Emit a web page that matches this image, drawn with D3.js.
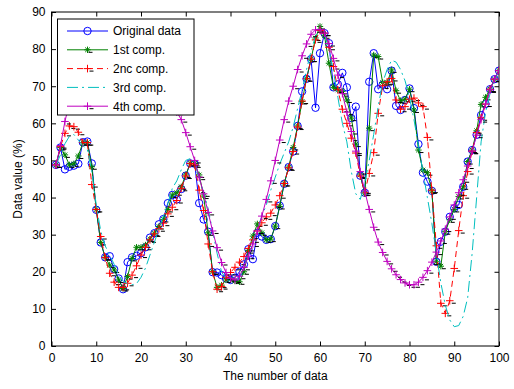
<!DOCTYPE html>
<html>
<head>
<meta charset="utf-8">
<script src="https://cdn.jsdelivr.net/npm/d3@7/dist/d3.min.js"></script>
<style>
  body { margin: 0; background: #fff; }
  text { font-family: "Liberation Sans", Arial, Helvetica, sans-serif; }
</style>
</head>
<body>
<svg id="chart" width="514" height="389"></svg>
<script>
// Tick values
const xTicks = [0, 10, 20, 30, 40, 50, 60, 70, 80, 90, 100];
const yTicks = [0, 10, 20, 30, 40, 50, 60, 70, 80, 90];

// Series values, sample index 1..100
const originalData = [
  48.8, 53.5, 47.6, 48.3, 48.6, 49.1, 54.9, 55.1, 49.2, 36.7,
  27.9, 23.9, 24.2, 20.7, 18.2, 15.3, 22.6, 23.9, 24.3, 25.0,
  26.6, 29.2, 30.4, 32.8, 34.2, 38.5, 40.7, 39.5, 42.3, 45.9,
  49.2, 49.1, 38.5, 34.1, 30.8, 19.9, 19.8, 19.1, 18.2, 17.8,
  18.4, 20.0, 22.0, 26.1, 23.4, 30.5, 29.5, 28.6, 28.8, 32.3,
  37.8, 43.7, 48.2, 52.4, 59.3, 68.6, 72.0, 77.3, 64.2, 78.9,
  84.3, 81.6, 69.7, 70.5, 73.6, 69.7, 61.4, 64.5, 45.9, 41.3,
  71.2, 78.9, 69.2, 70.4, 69.2, 74.2, 64.7, 63.6, 66.3, 69.4,
  64.1, 54.4, 46.7, 44.3, 41.8, 22.7, 28.1, 30.8, 34.8, 37.1,
  38.0, 42.9, 49.7, 52.8, 56.9, 62.2, 65.2, 69.2, 71.9, 74.2
];

const comp1 = [
  48.8, 53.5, 51.5, 48.8, 49.1, 51.2, 54.8, 54.8, 48.3, 36.8,
  27.9, 23.9, 21.8, 20.5, 17.8, 15.5, 18.7, 23.6, 26.6, 26.6,
  27.2, 28.8, 30.4, 32.2, 34.1, 36.8, 40.7, 41.3, 42.9, 46.1,
  49.2, 49.2, 46.1, 40.4, 30.5, 20.0, 15.8, 16.4, 17.8, 18.0,
  17.5, 17.3, 20.0, 25.7, 29.6, 32.9, 30.5, 28.6, 28.8, 32.3,
  37.6, 43.8, 48.2, 53.5, 59.3, 65.9, 72.1, 77.3, 83.0, 86.1,
  83.6, 76.2, 69.7, 69.0, 68.6, 66.3, 61.4, 54.4, 46.1, 41.2,
  58.7, 78.4, 78.0, 71.0, 71.0, 74.4, 68.8, 66.1, 66.5, 69.2,
  63.6, 52.8, 47.4, 46.7, 41.8, 22.7, 21.5, 30.8, 34.0, 36.8,
  40.3, 42.9, 49.7, 52.8, 58.0, 65.1, 67.0, 69.2, 71.9, 74.2
];

const comp2 = [
  48.8, 53.7, 57.3, 59.3, 59.1, 57.6, 54.8, 54.8, 43.5, 36.8,
  29.5, 23.8, 19.6, 17.2, 15.8, 15.8, 16.9, 19.1, 21.6, 24.5,
  26.6, 28.6, 30.2, 31.6, 33.1, 35.6, 37.4, 39.2, 42.5, 45.8,
  49.2, 48.8, 42.0, 36.5, 27.5, 20.0, 15.3, 16.0, 18.5, 19.8,
  21.2, 22.6, 24.1, 26.3, 28.6, 31.0, 33.2, 34.8, 35.8, 38.0,
  40.5, 43.8, 48.0, 52.4, 59.0, 66.0, 72.0, 77.3, 82.5, 85.0,
  84.3, 80.5, 75.3, 69.0, 63.8, 60.0, 56.0, 52.0, 45.8, 41.3,
  46.5, 52.1, 62.7, 70.1, 71.2, 72.1, 66.3, 63.8, 64.5, 66.5,
  66.8, 65.5, 64.5, 56.2, 42.0, 27.0, 11.5, 8.8, 12.2, 20.9,
  31.1, 40.5, 47.0, 52.5, 57.5, 61.5, 65.2, 69.2, 71.9, 74.2
];

const comp3 = [
  48.8, 51.5, 54.5, 56.5, 57.0, 55.5, 54.0, 53.0, 47.0, 38.0,
  31.0, 27.0, 24.5, 22.0, 19.0, 17.5, 16.8, 16.5, 16.8, 18.5,
  21.0, 24.5, 28.0, 31.5, 35.0, 38.5, 42.5, 44.5, 47.5, 50.0,
  50.5, 49.5, 45.0, 41.5, 37.0, 31.0, 25.0, 20.0, 18.0, 17.5,
  17.5, 18.5, 21.0, 24.5, 28.0, 31.5, 35.0, 38.0, 42.0, 45.5,
  49.0, 52.0, 55.0, 59.0, 64.0, 69.0, 74.5, 79.5, 83.5, 85.0,
  84.0, 80.0, 74.0, 67.0, 60.0, 55.0, 47.0, 41.0, 39.5, 44.0,
  50.0, 57.0, 64.5, 71.0, 74.5, 77.0, 76.5, 74.5, 71.5, 67.0,
  61.0, 54.0, 47.0, 40.0, 33.0, 25.0, 17.0, 11.0, 7.0, 5.2,
  5.5, 8.0, 13.0, 25.0, 40.0, 55.0, 63.0, 68.0, 71.5, 74.2
];

const comp4 = [
  48.8, 54.0, 60.5, 65.5, 70.0, 73.5, 76.5, 79.0, 81.0, 82.5,
  83.5, 84.3, 84.8, 85.0, 85.0, 84.7, 84.0, 83.0, 81.5, 79.5,
  77.5, 75.5, 73.0, 70.5, 68.0, 66.0, 64.5, 63.0, 61.0, 57.5,
  53.7, 50.0, 45.5, 41.0, 36.0, 31.0, 26.5, 22.5, 19.8, 18.2,
  17.8, 18.8, 21.2, 24.2, 27.5, 31.0, 35.0, 39.5, 44.5, 50.0,
  55.5, 61.0, 66.0, 70.0, 74.5, 78.2, 81.4, 84.0, 85.2, 85.3,
  84.3, 81.5, 77.5, 73.0, 68.0, 63.0, 57.8, 52.5, 47.0, 41.8,
  36.8, 32.0, 28.0, 25.2, 22.8, 20.8, 19.2, 17.9, 17.0, 16.5,
  16.5, 17.2, 18.5, 20.3, 22.6, 25.3, 28.3, 31.5, 34.8, 38.0,
  41.3, 44.8, 48.5, 52.5, 56.8, 61.0, 65.2, 69.0, 72.0, 74.2
];

const seriesNames = ["Original data", "1st comp.", "2nc comp.", "3rd comp.", "4th comp."];
const xTitle = "The number of data";
const yTitle = "Data value (%)";

// Drawing styles for each series
const styles = [
  { values: originalData, color: "#0000ff", dash: null,       marker: "circle" },
  { values: comp1,        color: "#008000", dash: null,       marker: "star" },
  { values: comp2,        color: "#ff0000", dash: "6,4",      marker: "plus" },
  { values: comp3,        color: "#00bfbf", dash: "11,4,2,4", marker: null },
  { values: comp4,        color: "#bf00bf", dash: null,       marker: "plus" }
];

const svg = d3.select("#chart");
const plotLeft = 51.5, plotRight = 499, plotTop = 12, plotBottom = 346;

const x = d3.scaleLinear().domain([0, 100]).range([plotLeft, plotRight]);
const y = d3.scaleLinear().domain([0, 90]).range([plotBottom, plotTop]);

svg.append("defs").append("clipPath").attr("id", "plotClip")
  .append("rect").attr("x", plotLeft).attr("y", plotTop)
  .attr("width", plotRight - plotLeft).attr("height", plotBottom - plotTop);

// Axes with inward ticks on all four sides
const tickLen = 4.5;
const gBottom = svg.append("g").attr("transform", `translate(0,${plotBottom})`)
  .call(d3.axisBottom(x).tickValues(xTicks).tickSizeInner(-tickLen).tickSizeOuter(0).tickPadding(7));
const gLeft = svg.append("g").attr("transform", `translate(${plotLeft},0)`)
  .call(d3.axisLeft(y).tickValues(yTicks).tickSizeInner(-tickLen).tickSizeOuter(0).tickPadding(6));
const gTop = svg.append("g").attr("transform", `translate(0,${plotTop})`)
  .call(d3.axisTop(x).tickValues(xTicks).tickSizeInner(-tickLen).tickSizeOuter(0).tickFormat(""));
const gRight = svg.append("g").attr("transform", `translate(${plotRight},0)`)
  .call(d3.axisRight(y).tickValues(yTicks).tickSizeInner(-tickLen).tickSizeOuter(0).tickFormat(""));

[gBottom, gLeft, gTop, gRight].forEach(g => {
  g.select(".domain").remove();
  g.selectAll("line").attr("stroke", "#000").attr("stroke-width", 1);
  g.selectAll("text").attr("font-size", 12).attr("fill", "#000")
    .style("font-family", '"Liberation Sans", Arial, sans-serif');
});

svg.append("rect").attr("x", plotLeft).attr("y", plotTop)
  .attr("width", plotRight - plotLeft).attr("height", plotBottom - plotTop)
  .attr("fill", "none").attr("stroke", "#000").attr("stroke-width", 1);

// Axis titles
svg.append("text").attr("x", (plotLeft + plotRight) / 2).attr("y", 380)
  .attr("text-anchor", "middle").attr("font-size", 12).text(xTitle);
svg.append("text").attr("transform", `translate(22,${(plotTop + plotBottom) / 2}) rotate(-90)`)
  .attr("text-anchor", "middle").attr("font-size", 12).text(yTitle);

// Marker drawing helpers
function drawMarker(g, kind, cx, cy, color) {
  if (kind === "circle") {
    g.append("circle").attr("cx", cx).attr("cy", cy).attr("r", 3.7)
      .attr("fill", "none").attr("stroke", color).attr("stroke-width", 1);
  } else if (kind === "plus") {
    const s = 3.8;
    g.append("path").attr("d", `M${cx - s},${cy}H${cx + s}M${cx},${cy - s}V${cy + s}`)
      .attr("stroke", color).attr("stroke-width", 1).attr("fill", "none");
    g.append("path").attr("d", `M${cx + 2},${cy + 2.5}H${cx + 6}`)
      .attr("stroke", "#000").attr("stroke-width", 1);
  } else if (kind === "star") {
    const s = 3.2, d = 2.3;
    g.append("path")
      .attr("d", `M${cx - s},${cy}H${cx + s}M${cx},${cy - s}V${cy + s}` +
                 `M${cx - d},${cy - d}L${cx + d},${cy + d}M${cx - d},${cy + d}L${cx + d},${cy - d}`)
      .attr("stroke", color).attr("stroke-width", 1).attr("fill", "none");
    g.append("path").attr("d", `M${cx + 1},${cy + 2.5}H${cx + 5}`)
      .attr("stroke", "#000").attr("stroke-width", 1);
  }
}

// Series lines and markers
const plot = svg.append("g").attr("clip-path", "url(#plotClip)");
const line = d3.line().x((d, i) => x(i + 1)).y(d => y(d));

styles.forEach(s => {
  const g = plot.append("g");
  const p = g.append("path").datum(s.values).attr("d", line)
    .attr("fill", "none").attr("stroke", s.color).attr("stroke-width", 1);
  if (s.dash) p.attr("stroke-dasharray", s.dash);
  if (s.marker) {
    s.values.forEach((v, i) => drawMarker(g, s.marker, x(i + 1), y(v), s.color));
  }
});

// Legend
const lg = svg.append("g");
lg.append("rect").attr("x", 57.5).attr("y", 19).attr("width", 136.5).attr("height", 96)
  .attr("fill", "#fff").attr("stroke", "#000").attr("stroke-width", 1);
styles.forEach((s, k) => {
  const ly = 31 + k * 18.8;
  const l = lg.append("line").attr("x1", 67).attr("x2", 108).attr("y1", ly).attr("y2", ly)
    .attr("stroke", s.color).attr("stroke-width", 1);
  if (s.dash) l.attr("stroke-dasharray", s.dash);
  if (s.marker) drawMarker(lg, s.marker, 87.5, ly, s.color);
  lg.append("text").attr("x", 113).attr("y", ly).attr("dy", "0.36em")
    .attr("font-size", 12).text(seriesNames[k]);
});
</script>
</body>
</html>
